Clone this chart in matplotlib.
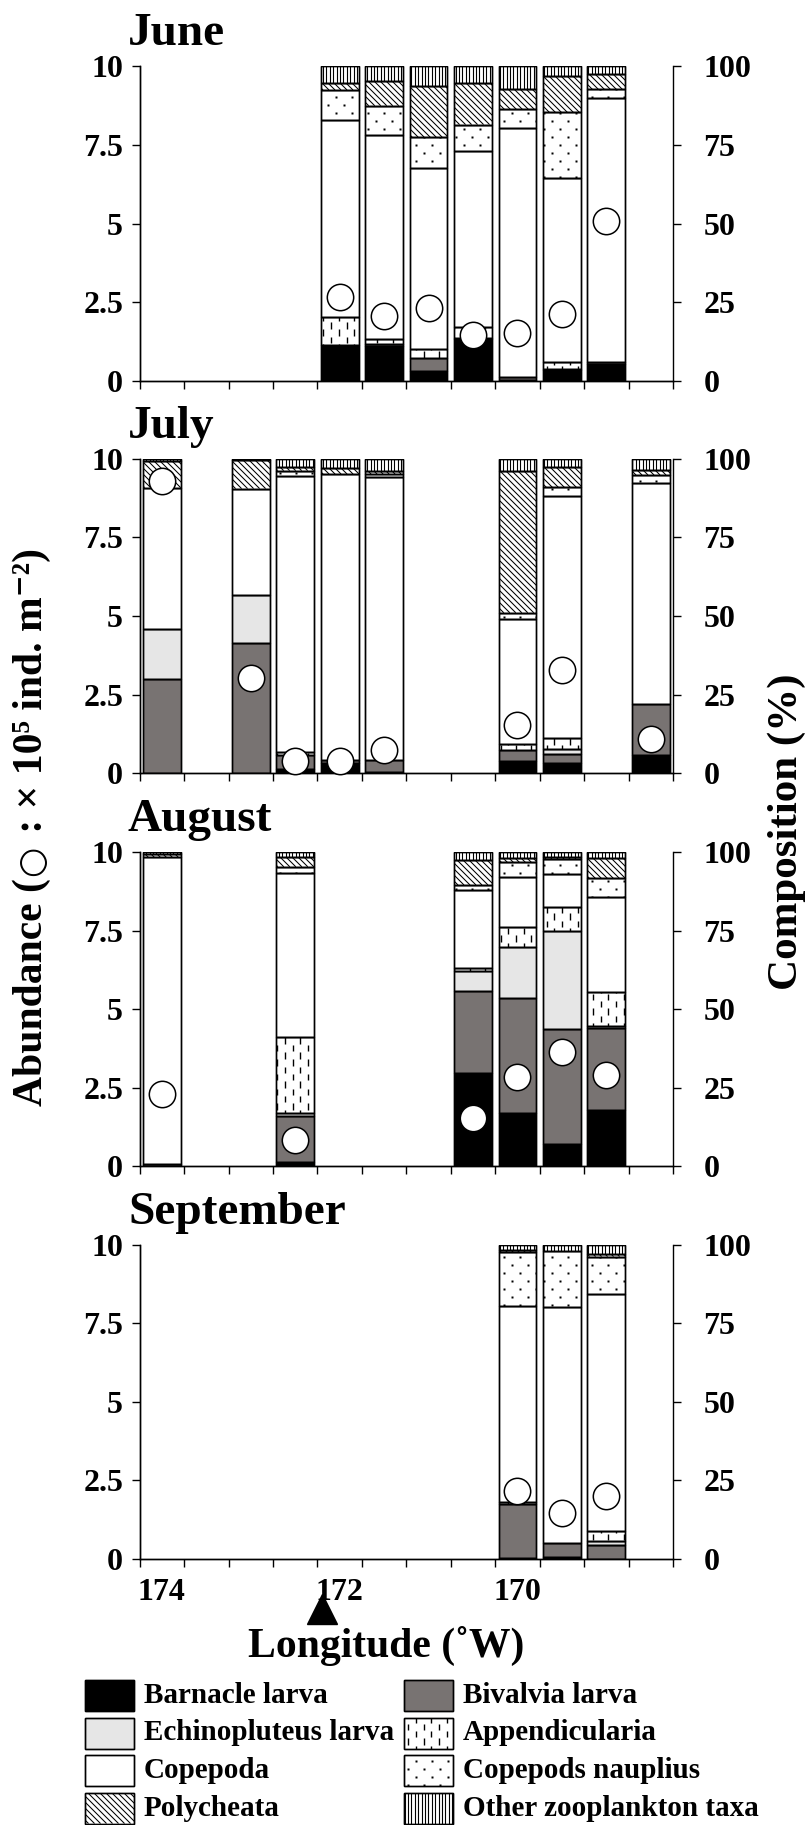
import numpy as np
import matplotlib
matplotlib.use('Agg')
import matplotlib.pyplot as plt
from matplotlib.collections import LineCollection
from matplotlib.lines import Line2D
from matplotlib.patches import Rectangle
from matplotlib.transforms import IdentityTransform

plt.rcParams['font.family'] = ['Liberation Serif', 'DejaVu Serif']
plt.rcParams['font.weight'] = 'bold'

# 分類群（積み上げ順）
taxa = ['Barnacle larva', 'Bivalvia larva', 'Echinopluteus larva', 'Appendicularia',
        'Copepoda', 'Copepods nauplius', 'Polycheata', 'Other zooplankton taxa']
fills = ['black', '#787372', '#e6e6e6', 'white', 'white', 'white', 'white', 'white']
textures = [None, None, None, 'dashes', None, 'dots', 'diag', 'vlines']

months = ['June', 'July', 'August', 'September']

# 経度 (°W)、個体数 (×10^5 ind. m^-2)、組成 (%)：行は taxa の順
june_lon = [172, 171.5, 171, 170.5, 170, 169.5, 169]
june_abund = [2.67, 2.06, 2.33, 1.45, 1.51, 2.11, 5.08]
june_comp = [
    [11.3, 11.0, 3.1, 13.3, 0.4, 3.4, 5.2],
    [0.0, 0.6, 4.2, 0.4, 0.8, 0.3, 0.8],
    [0.0, 0.0, 0.0, 0.0, 0.0, 0.0, 0.0],
    [9.1, 1.7, 2.7, 3.5, 0.0, 2.3, 0.0],
    [62.5, 64.9, 57.6, 56.0, 79.3, 58.4, 83.8],
    [9.6, 9.3, 9.9, 8.3, 5.8, 21.0, 2.9],
    [2.3, 7.8, 16.3, 13.1, 6.4, 11.6, 4.8],
    [5.2, 4.7, 6.2, 5.4, 7.3, 3.0, 2.5],
]

july_lon = [174, 173, 172.5, 172, 171.5, 170, 169.5, 168.5]
july_abund = [9.29, 3.03, 0.39, 0.37, 0.75, 1.52, 3.28, 1.08]
july_comp = [
    [0.0, 0.0, 1.2, 3.1, 0.3, 3.8, 3.1, 5.7],
    [29.8, 41.3, 4.5, 1.2, 3.8, 3.5, 2.9, 16.3],
    [16.0, 15.5, 0.0, 0.0, 0.0, 0.0, 1.6, 0.0],
    [0.0, 0.0, 1.0, 0.0, 0.0, 1.8, 3.7, 0.0],
    [45.0, 33.7, 87.8, 90.8, 90.0, 39.8, 76.9, 70.4],
    [0.0, 0.0, 1.7, 0.0, 1.0, 2.1, 2.7, 2.4],
    [8.6, 9.1, 1.3, 2.1, 1.1, 45.2, 6.6, 1.6],
    [0.6, 0.4, 2.5, 2.8, 3.8, 3.8, 2.5, 3.6],
]

aug_lon = [174, 172.5, 170.5, 170, 169.5, 169]
aug_abund = [2.30, 0.85, 1.53, 2.83, 3.63, 2.91]
aug_comp = [
    [0.2, 1.3, 29.7, 17.0, 7.2, 18.0],
    [0.5, 14.6, 26.2, 36.5, 36.6, 26.0],
    [0.0, 1.0, 6.1, 16.4, 31.1, 0.8],
    [0.0, 24.4, 1.0, 6.2, 7.6, 10.8],
    [97.6, 51.9, 24.9, 16.1, 10.5, 30.0],
    [0.0, 2.1, 1.6, 4.5, 4.8, 6.0],
    [1.0, 3.2, 8.0, 1.3, 0.5, 6.6],
    [0.7, 1.5, 2.5, 2.0, 1.7, 1.8],
]

sep_lon = [170, 169.5, 169]
sep_abund = [2.17, 1.45, 2.01]
sep_comp = [
    [0.4, 0.7, 0.0],
    [17.1, 4.3, 4.5],
    [0.0, 0.0, 1.1],
    [0.5, 0.0, 3.2],
    [62.6, 75.1, 75.4],
    [17.0, 17.9, 12.0],
    [0.8, 0.0, 0.7],
    [1.6, 2.0, 3.1],
]

panels = [(june_lon, june_abund, june_comp),
          (july_lon, july_abund, july_comp),
          (aug_lon, aug_abund, aug_comp),
          (sep_lon, sep_abund, sep_comp)]

lon_edges = np.arange(174.25, 168.0, -0.5)
lon_labels = [174, 172, 170]
marker_lon = 172.2
bar_w = 0.425


def add_texture(ax, patch, kind, zorder=1.1):
    """パッチ内に模様をピクセル単位で描く"""
    x0, y0, x1, y1 = patch.get_window_extent().extents
    ident = IdentityTransform()
    if kind == 'dots':
        xs, ys = [], []
        for row in range(int(np.floor(y0 / 8.0)), int(np.ceil(y1 / 8.0)) + 1):
            shift = 8.0 if row % 2 else 0.0
            cols = np.arange(np.floor(x0 / 16.0) * 16.0 - 16 + shift, x1 + 16, 16.0)
            xs.extend(cols)
            ys.extend([row * 8.0] * len(cols))
        art = Line2D(xs, ys, ls='none', marker='s', ms=1.7, mfc='black', mec='none',
                     transform=ident)
    else:
        segs = []
        if kind == 'vlines':
            for x in np.arange(np.floor(x0 / 3.4) * 3.4, x1 + 3.4, 3.4):
                segs.append([(x, y0), (x, y1)])
            lw = 0.8
        elif kind == 'diag':
            s = 6.0
            for c in np.arange(np.floor((x0 + y0) / s) * s, x1 + y1 + s, s):
                segs.append([(c - y1, y1), (c - y0, y0)])
            lw = 0.75
        else:
            dx, period, dash = 7.7, 14.6, 6.5
            for j in range(int(np.floor(x0 / dx)), int(np.ceil(x1 / dx)) + 1):
                off = (j % 2) * period / 2
                for k in range(int(np.floor((y0 - off) / period)) - 1,
                               int(np.ceil((y1 - off) / period)) + 1):
                    yb = off + k * period
                    segs.append([(j * dx, yb), (j * dx, yb + dash)])
            lw = 1.0
        art = LineCollection(segs, colors='black', linewidths=lw, transform=ident)
    art.set_zorder(zorder)
    ax.add_artist(art)
    # add_artist がクリップを軸に戻すので後から設定
    art.set_clip_path(patch)


fig = plt.figure(figsize=(8.08, 18.25), dpi=100)
W, H = 808.0, 1825.0

# 凡例・軸ラベル用（ピクセル座標）
lax = fig.add_axes([0, 0, 1, 1])
lax.set_xlim(0, W)
lax.set_ylim(H, 0)
lax.axis('off')

tops = [66.4, 458.7, 852.0, 1244.6]
ax_left, ax_w, ax_h = 139.7, 533.3, 314.4

for n, (top, name, (lon, abund, comp)) in enumerate(zip(tops, months, panels)):
    ax = fig.add_axes([ax_left / W, 1 - (top + ax_h) / H, ax_w / W, ax_h / H])
    ax2 = ax.twinx()
    ax.set_zorder(ax2.get_zorder() + 1)
    ax.patch.set_visible(False)

    ax.set_xlim(174.25, 168.25)
    ax.set_ylim(0, 10)
    ax2.set_ylim(0, 100)

    # 組成の積み上げ棒
    lon_a = np.asarray(lon, float)
    bottom = np.zeros(len(lon))
    for i, vals in enumerate(comp):
        vals = np.asarray(vals, float)
        keep = vals > 0
        bars = ax2.bar(lon_a[keep], vals[keep], bottom=bottom[keep], width=bar_w,
                       color=fills[i], edgecolor='black', linewidth=1.0, zorder=1)
        if textures[i]:
            for p in bars.patches:
                add_texture(ax2, p, textures[i])
        ax2.bar(lon_a[keep], vals[keep], bottom=bottom[keep], width=bar_w,
                fill=False, edgecolor='black', linewidth=1.0, zorder=1.2)
        bottom += vals

    # 個体数
    ax.plot(lon, abund, ls='none', marker='o', ms=19, mfc='white', mec='black',
            mew=1.1, clip_on=False, zorder=3)

    for a in (ax, ax2):
        a.spines['top'].set_visible(False)
        for sp in a.spines.values():
            sp.set_linewidth(1.0)
    ax.spines['right'].set_visible(False)

    ax.set_yticks([0, 2.5, 5, 7.5, 10])
    ax.set_yticklabels(['0', '2.5', '5', '7.5', '10'])
    ax2.set_yticks([0, 25, 50, 75, 100])
    ax.tick_params(axis='y', length=6, width=1.0, labelsize=23, pad=6)
    ax2.tick_params(axis='y', length=6, width=1.0, labelsize=23, pad=16)

    ax.set_xticks(lon_edges)
    ax.set_xticklabels([])
    ax.set_xticks(lon_labels, minor=True)
    ax.set_xticklabels([str(v) for v in lon_labels], minor=True)
    ax.tick_params(axis='x', which='major', length=5.5, width=1.0)
    ax.tick_params(axis='x', which='minor', length=0, labelsize=23, pad=14,
                   labelbottom=(n == len(months) - 1))

    ax.text(-0.022, 1.067, name, transform=ax.transAxes, fontsize=34,
            ha='left', va='baseline')

    if n == len(months) - 1:
        ax.plot([marker_lon], [-0.16], marker='^', ms=21, color='black',
                transform=ax.get_xaxis_transform(), clip_on=False)

lax.text(386, 1657, 'Longitude (˚W)', fontsize=30, ha='center', va='baseline')
lax.text(787, 832, 'Composition (%)', fontsize=31, rotation=90, ha='center', va='center')

# 縦軸ラベル（○だけ別フォントで大きく描くため3つに分けて縦に並べる）
renderer = fig.canvas.get_renderer()
ylab_parts = [('Abundance (', dict(fontsize=30)),
              ('○', dict(fontsize=25, family='DejaVu Sans', weight='normal')),
              (' : × 10⁵ ind. m⁻²)', dict(fontsize=30, family=['Liberation Serif', 'DejaVu Sans']))]
ylab_texts, ylab_lens = [], []
for s, kw in ylab_parts:
    t = lax.text(42, 0, s, rotation=90, rotation_mode='anchor', ha='left',
                 va='baseline', **kw)
    ylab_texts.append(t)
    ylab_lens.append(t.get_window_extent(renderer).height)
gap = 2.0
y_pos = 827 + (sum(ylab_lens) + gap * 2) / 2
for t, L in zip(ylab_texts, ylab_lens):
    t.set_y(y_pos)
    y_pos -= L + gap

# 凡例
leg_x = [85, 404]
leg_rows = [1680, 1717.5, 1755, 1792.5]
for i, name in enumerate(taxa):
    col, row = i % 2, i // 2
    rect = Rectangle((leg_x[col], leg_rows[row]), 49, 31, facecolor=fills[i],
                     edgecolor='black', linewidth=1.0, zorder=1)
    lax.add_patch(rect)
    if textures[i]:
        add_texture(lax, rect, textures[i])
    lax.add_patch(Rectangle((leg_x[col], leg_rows[row]), 49, 31, fill=False,
                            edgecolor='black', linewidth=1.0, zorder=1.2))
    lax.text(leg_x[col] + 59, leg_rows[row] + 15.5, name, fontsize=21,
             ha='left', va='center')

fig.savefig('out.png', dpi=100)
